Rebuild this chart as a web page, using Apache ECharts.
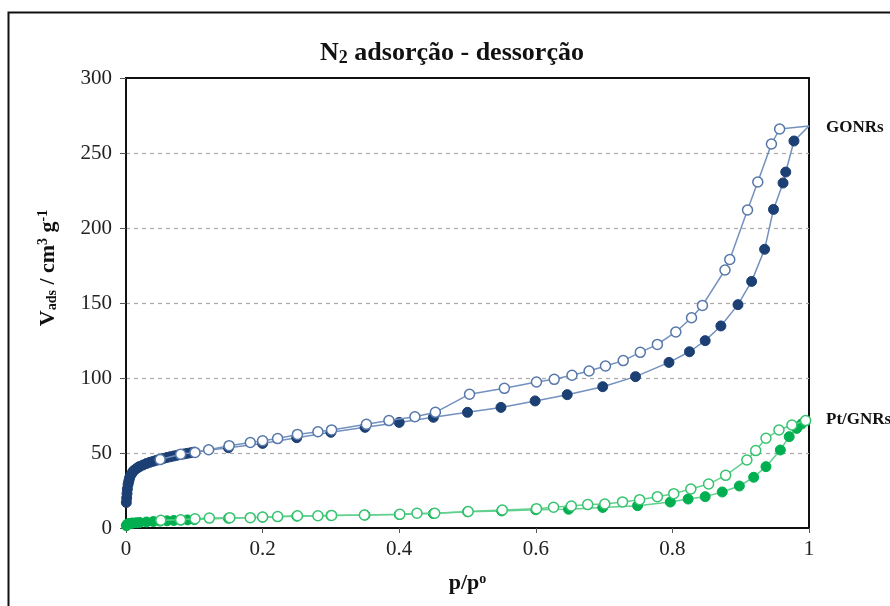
<!DOCTYPE html>
<html>
<head>
<meta charset="utf-8">
<script src="https://cdn.jsdelivr.net/npm/echarts@6/dist/echarts.min.js"></script>
<style>
html,body{margin:0;padding:0;background:#fff;}
#c{width:890px;height:606px;}
</style>
</head>
<body>
<div id="c"></div>
<script>
// ---- Data (p/p0, V_ads) ----
var gonrsAdsP = [0.0005,0.001,0.0015,0.002,0.003,0.004,0.005,0.006,0.008,0.01,0.012,0.015,0.018,0.02,0.025,0.03,0.035,0.04,0.045,0.05,0.055,0.06,0.065,0.07,0.075,0.08,0.085,0.09,0.095,0.1,0.15,0.2,0.25,0.3,0.35,0.4,0.45,0.5,0.549,0.599,0.646,0.698,0.746,0.795,0.825,0.848,0.871,0.896,0.916,0.935,0.948,0.962,0.966,0.978,1.0];
var gonrsAdsV = [17,20,23,26,29,31,33,34.5,36,37.5,38.5,39.5,40.5,41,42,43,43.8,44.5,45.2,45.8,46.4,47,47.5,48,48.5,49,49.4,49.8,50.2,50.6,53.5,56.4,60.2,63.8,67.1,70.4,73.8,77.1,80.4,84.7,88.9,94.2,100.9,110.4,117.5,124.9,134.7,148.9,164.4,185.8,212.4,230,237.3,258,268];
var gonrsDesP = [1.0,0.957,0.945,0.925,0.910,0.884,0.877,0.844,0.828,0.805,0.778,0.753,0.728,0.702,0.678,0.653,0.627,0.601,0.554,0.503,0.453,0.423,0.385,0.352,0.301,0.281,0.251,0.222,0.2,0.182,0.151,0.121,0.101,0.08,0.05];
var gonrsDesV = [268,266,256,230.7,212,179,172,148.4,140.2,130.7,122.4,117.1,111.6,108,104.7,101.8,99.1,97.3,93.1,89.2,77.1,74.2,71.6,69.1,65.4,64.2,62.4,59.6,58.1,57,54.9,52.2,50.4,49.1,45.6];
var ptAdsP = [0.0005,0.001,0.002,0.003,0.005,0.008,0.01,0.015,0.02,0.03,0.04,0.05,0.06,0.07,0.08,0.09,0.1,0.15,0.2,0.25,0.3,0.35,0.4,0.45,0.5,0.55,0.6,0.648,0.698,0.749,0.797,0.823,0.848,0.873,0.898,0.919,0.937,0.958,0.971,0.982,0.989,0.995];
var ptAdsV = [1.5,2,2.5,2.8,3,3.2,3.3,3.5,3.7,4,4.3,4.6,4.8,5,5.2,5.4,5.6,6.5,7.2,7.9,8.3,8.6,9,9.6,10.8,11.4,12.2,12.5,13.7,14.9,17.3,19.3,20.9,24,28,33.8,40.9,52,60.9,66.4,69.3,71.5];
var ptDesP = [0.995,0.975,0.956,0.937,0.922,0.909,0.878,0.853,0.827,0.802,0.778,0.752,0.727,0.701,0.676,0.652,0.626,0.601,0.551,0.501,0.452,0.426,0.401,0.349,0.301,0.281,0.251,0.222,0.2,0.182,0.152,0.122,0.101,0.08,0.051];
var ptDesV = [71.6,68.7,65.3,59.8,51.6,45.3,35.1,29.3,26,22.9,20.9,18.9,17.4,16,15.6,14.7,13.8,12.9,12,11,9.8,9.8,9.1,8.7,8.4,8.2,8.2,7.6,7.3,6.9,6.9,6.6,6.2,5.5,5.2];
var xTicks = [0,0.2,0.4,0.6,0.8,1];
var yTicks = [0,50,100,150,200,250,300];
var seriesLabels = ['GONRs','Pt/GNRs'];

function pairs(px, vy, hideAt1){
  return px.map(function(p,i){
    var d = {value:[p, vy[i]]};
    if (hideAt1 && p >= 1) d.symbol = 'none';
    return d;
  });
}

var F = '"Liberation Serif","Times New Roman",serif';
var chart = echarts.init(document.getElementById('c'), null, {renderer:'canvas'});
var navy = '#1c3f74', blueLine = '#7391bf', blueOpen = '#5577aa';
var green = '#00b050', greenLine = '#62d08e', greenOpen = '#35c36e';

chart.setOption({
  backgroundColor:'#fff',
  animation:false,
  title:{
    text:'{a|N}{b|2}{a| adsorção - dessorção}',
    left:447, top:35, textAlign:'center',
    textStyle:{rich:{
      a:{fontFamily:F, fontWeight:'bold', fontSize:26, color:'#111'},
      b:{fontFamily:F, fontWeight:'bold', fontSize:18, color:'#111', verticalAlign:'bottom', padding:[9,0,0,0]}
    }}
  },
  grid:{left:126, top:78, right:81, bottom:78, show:true, borderColor:'#111', borderWidth:2, backgroundColor:'transparent'},
  xAxis:{
    type:'value', min:0, max:1, interval:0.2,
    name:'{b|p/p}{s|o}', nameLocation:'middle', nameGap:44,
    nameTextStyle:{rich:{
      b:{fontFamily:F, fontWeight:'bold', fontSize:22, color:'#111'},
      s:{fontFamily:F, fontWeight:'bold', fontSize:14, color:'#111', verticalAlign:'top', padding:[0,0,9,0]}
    }},
    axisLine:{show:true, onZero:false, lineStyle:{color:'#111', width:2}},
    axisTick:{show:true, inside:false, length:5, lineStyle:{color:'#555'}},
    splitLine:{show:false},
    axisLabel:{fontFamily:F, fontSize:21, color:'#222', margin:11,
      formatter:function(v){ var m = xTicks.filter(function(t){return Math.abs(t-v)<1e-9;}); return m.length? String(m[0]) : ''; }}
  },
  yAxis:{
    type:'value', min:0, max:300, interval:50,
    axisLine:{show:true, onZero:false, lineStyle:{color:'#111', width:2}},
    axisTick:{show:true, inside:false, length:6, lineStyle:{color:'#555'}},
    splitLine:{show:true, showMinLine:false, showMaxLine:false, lineStyle:{color:'#aaa', type:[4,4], width:1.2}},
    axisLabel:{fontFamily:F, fontSize:21, color:'#222', margin:14,
      formatter:function(v){ return yTicks.indexOf(v)>=0 ? String(v) : ''; }}
  },
  graphic:[
    {type:'rect', left:6, top:10, shape:{width:900, height:700}, style:{fill:'none', stroke:'#111', lineWidth:2}, z:-10, silent:true},
    {type:'text', x:48, y:268, rotation:Math.PI/2, silent:true,
      style:{text:'{b|V}{s|ads}{b| / cm}{p|3}{b| g}{p|-1}', align:'center', verticalAlign:'middle',
        rich:{
          b:{fontFamily:F, fontWeight:'bold', fontSize:22, fill:'#111'},
          s:{fontFamily:F, fontWeight:'bold', fontSize:14, fill:'#111', verticalAlign:'bottom', padding:[9,0,0,0]},
          p:{fontFamily:F, fontWeight:'bold', fontSize:14, fill:'#111', verticalAlign:'top', padding:[0,0,9,0]}
        }}},
    {type:'text', left:826, top:119, style:{text:seriesLabels[0], font:'bold 17px '+F, fill:'#111'}},
    {type:'text', left:826, top:411, style:{text:seriesLabels[1], font:'bold 17px '+F, fill:'#111'}}
  ],
  series:[
    {type:'line', name:'GONRs ads', data:pairs(gonrsAdsP, gonrsAdsV, true), symbol:'circle', symbolSize:10,
      lineStyle:{color:blueLine, width:1.5}, itemStyle:{color:navy, borderColor:navy, borderWidth:1}, clip:false, z:3},
    {type:'line', name:'GONRs des', data:pairs(gonrsDesP, gonrsDesV, true), symbol:'circle', symbolSize:10,
      lineStyle:{color:blueLine, width:1.5}, itemStyle:{color:'#fff', borderColor:blueOpen, borderWidth:1.5}, clip:false, z:4},
    {type:'line', name:'Pt ads', data:pairs(ptAdsP, ptAdsV, false), symbol:'circle', symbolSize:10,
      lineStyle:{color:greenLine, width:1.5}, itemStyle:{color:green, borderColor:green, borderWidth:1}, clip:false, z:3},
    {type:'line', name:'Pt des', data:pairs(ptDesP, ptDesV, false), symbol:'circle', symbolSize:10,
      lineStyle:{color:greenLine, width:1.5}, itemStyle:{color:'#fff', borderColor:greenOpen, borderWidth:1.5}, clip:false, z:4}
  ]
});
</script>
</body>
</html>
